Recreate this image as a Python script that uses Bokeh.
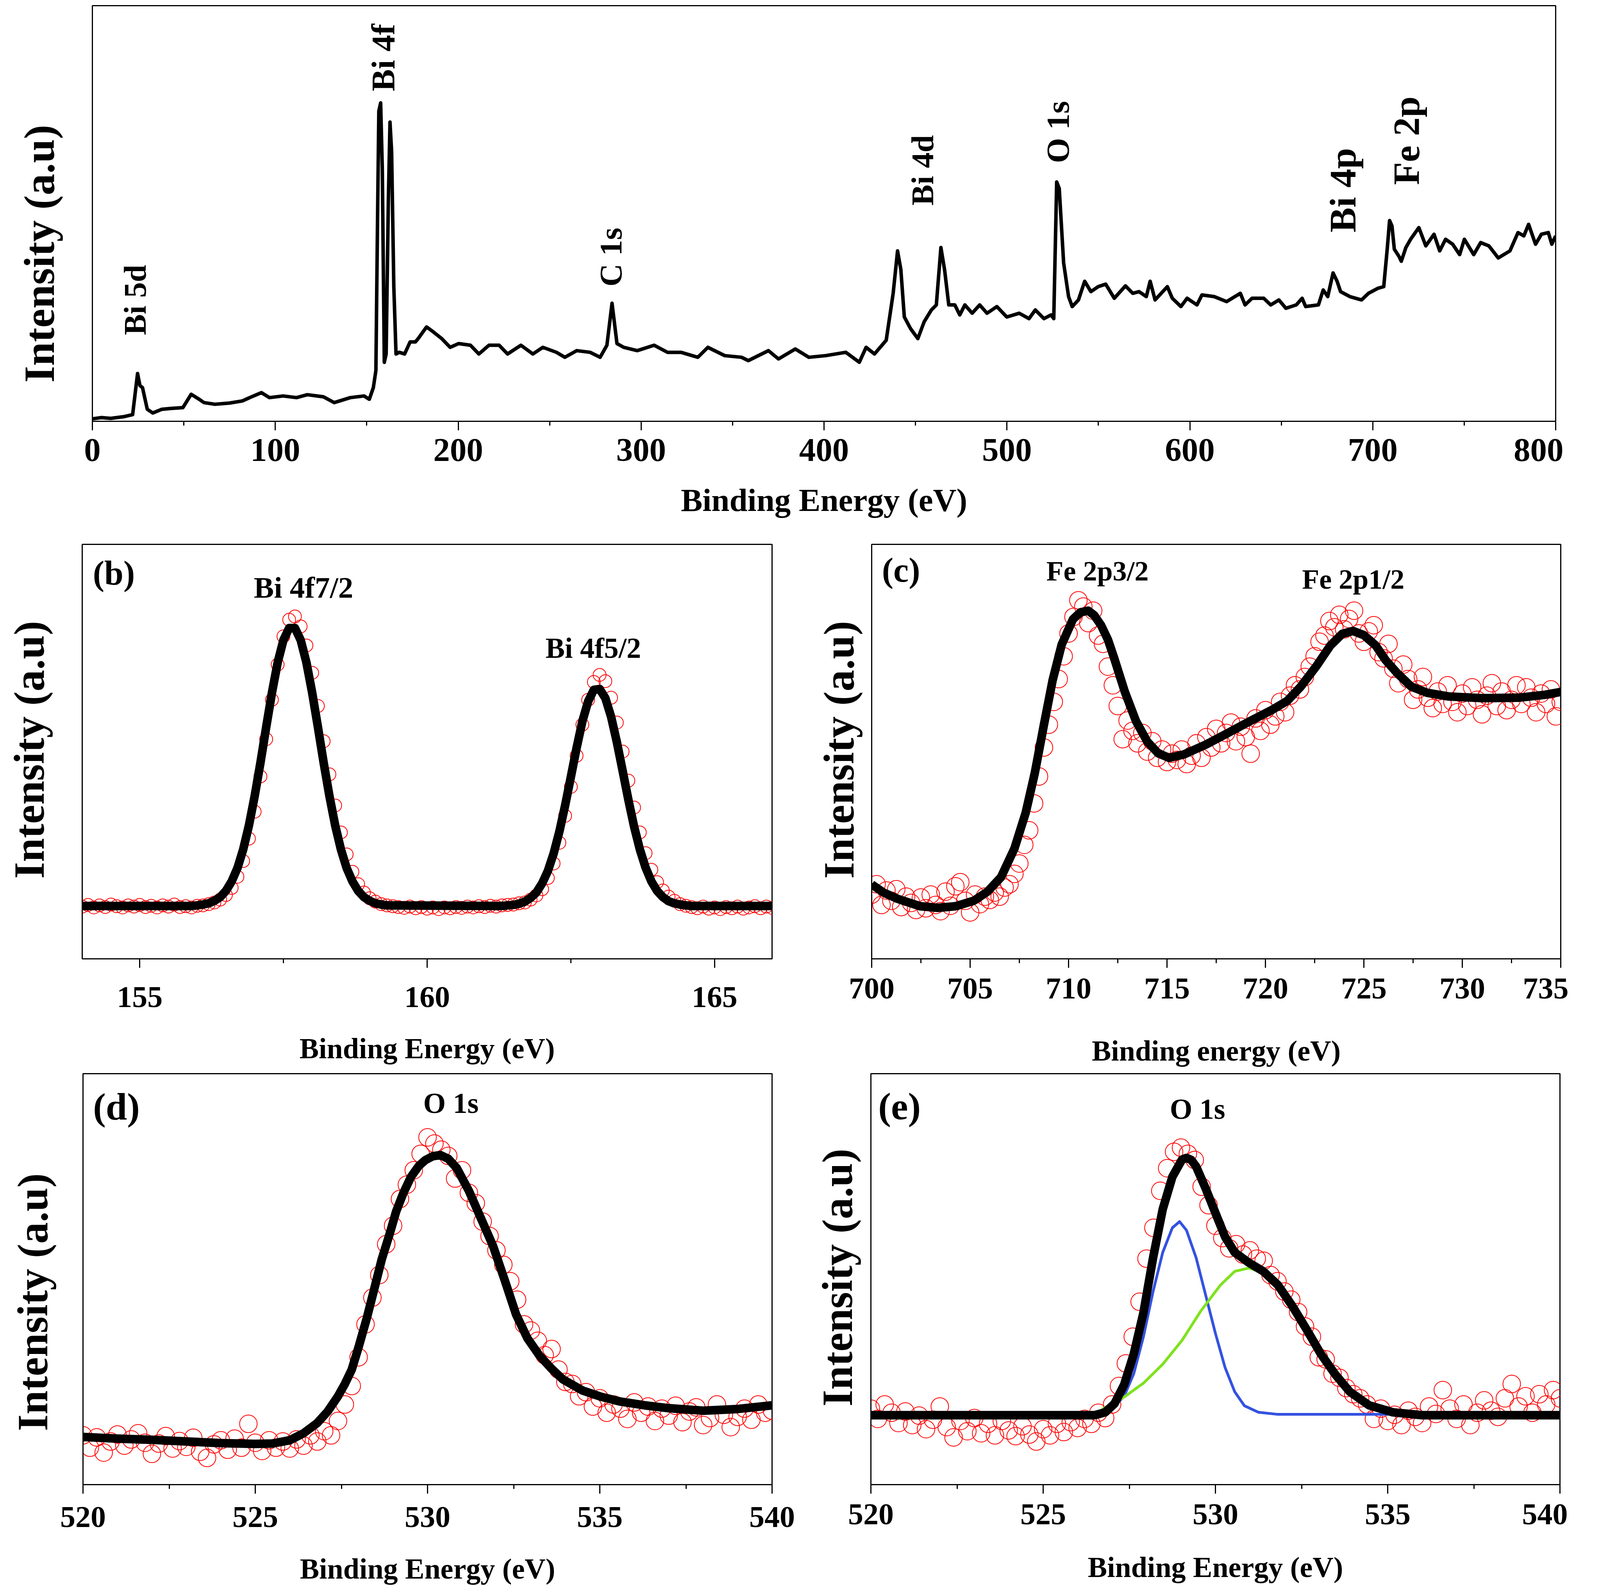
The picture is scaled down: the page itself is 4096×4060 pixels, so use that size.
import numpy as np
from bokeh.plotting import figure
from bokeh.layouts import column, row
from bokeh.models import Range1d, SingleIntervalTicker, FixedTicker, Title
from bokeh.core.properties import value
from bokeh.embed import file_html
from bokeh.resources import INLINE

FONT = "Liberation Serif"

# ---------------- (a) survey spectrum: (binding energy eV, intensity a.u.) ----------------
SURVEY = [(0, 0.6), (5, 0.9), (10, 0.7), (17, 1.1), (22, 1.6), (24.7, 11.5), (26, 8.6), (27.4, 8.1), (30, 2.9),
          (33, 2.0), (38, 2.9), (43, 3.1), (49.5, 3.3), (54, 6.5), (58.4, 5.3), (61, 4.5), (67, 4.1), (75, 4.4),
          (82, 4.9), (86, 5.7), (92.4, 6.9), (96.8, 5.7), (104.3, 6.1), (111.6, 5.7), (117.5, 6.4), (126.3, 5.9),
          (132.2, 4.5), (141, 5.7), (148.5, 6.1), (151.4, 5.3), (153.6, 8.1), (155, 12.2), (155.8, 44.6),
          (156.6, 74.6), (157.6, 76.6), (158.5, 60.8), (159.6, 14.2), (160.6, 16.2), (161.8, 52.7), (162.7, 72.0),
          (163.6, 64.9), (164.8, 32.4), (166, 16.2), (167.8, 16.6), (170.7, 16.2), (173.7, 19.1), (176.6, 19.1),
          (178.1, 19.9), (182.7, 22.7), (186.4, 21.5), (191, 19.9), (195.6, 17.8), (200.2, 18.7), (206.7, 18.3),
          (211.3, 16.2), (216.8, 18.3), (222.4, 18.3), (227, 16.2), (234.3, 18.3), (240.8, 16.2), (246.3, 17.8),
          (253.7, 16.6), (258.3, 15.4), (264.8, 17.0), (272.1, 16.6), (277.6, 15.4), (281.3, 18.3), (284.1, 28.4),
          (286.8, 18.7), (290.5, 17.8), (297.9, 17.0), (307.1, 18.3), (314.4, 16.6), (321.8, 16.6), (331, 15.4),
          (336.5, 17.8), (345.7, 15.8), (354.9, 15.4), (358.6, 14.6), (369.6, 17.0), (375.1, 15.0), (384.3, 17.4),
          (391.7, 15.4), (400.9, 15.8), (411.9, 16.6), (419.3, 14.2), (423, 17.8), (427.6, 16.2), (434, 19.5),
          (437.8, 30.8), (440.2, 41.0), (442, 36.5), (443.9, 25.1), (447.3, 22.3), (451.3, 19.9), (454.7, 23.9),
          (458.7, 26.8), (461.4, 28.0), (463.9, 41.8), (465.9, 36.5), (468.2, 28.0), (471.5, 28.0), (474.2, 25.6),
          (477, 28.0), (481, 26.0), (485.1, 28.0), (489.1, 26.0), (494.5, 27.6), (499.9, 25.1), (506.7, 26.0),
          (512.1, 24.7), (515.5, 26.8), (520.2, 24.7), (524.2, 25.6), (525.6, 24.7), (527.2, 57.6), (528.6, 56.0),
          (531, 38.1), (533.7, 30.0), (535.7, 27.6), (539.1, 29.2), (542.5, 33.7), (545.9, 31.2), (549.9, 32.4),
          (554, 33.0), (558.7, 29.6), (564.8, 32.6), (568.8, 30.8), (572.2, 31.2), (576.2, 30.0), (578.3, 33.7),
          (581, 29.2), (587.7, 32.4), (590.4, 29.6), (595.1, 27.6), (598.5, 29.6), (603.9, 28.0), (606.6, 30.4),
          (613.3, 30.0), (620.1, 28.8), (627.6, 30.8), (630.2, 28.0), (634, 29.6), (640.4, 29.6), (644.2, 28.0),
          (648.7, 29.2), (652.5, 27.2), (658.2, 28.0), (661.4, 29.6), (663.3, 27.6), (670.3, 28.0), (672.9, 31.6),
          (675.4, 30.0), (678.3, 35.7), (680.5, 33.7), (682.4, 31.2), (687.5, 30.0), (693.9, 29.2), (697.7, 30.8),
          (702.8, 32.0), (706, 32.4), (707.9, 41.4), (709.2, 48.3), (710.5, 47.0), (711.8, 41.4), (714.3, 39.7),
          (715.6, 38.5), (718.1, 41.8), (720.7, 43.8), (725.2, 46.6), (729, 42.2), (733.5, 45.0), (736.6, 41.0),
          (739.8, 43.8), (743.7, 42.6), (747.5, 40.1), (750.1, 43.8), (755.2, 40.1), (759, 43.0), (763.5, 42.2),
          (768.6, 39.3), (775, 41.0), (779.4, 45.4), (782.6, 44.6), (785.2, 47.4), (789, 42.6), (792.2, 45.0),
          (796, 45.4), (797.9, 42.6), (800, 44.6)]
SURVEY_PEAKS = ["Bi 5d", "Bi 4f", "C 1s", "Bi 4d", "O 1s", "Bi 4p", "Fe 2p"]
SURVEY_PEAK_BE = [23.3, 158.9, 283.4, 454.0, 527.8, 683.7, 718.5]
SURVEY_PEAK_I = [29.2, 87.5, 39.5, 60.4, 69.6, 55.6, 67.5]

# ---------------- (b) Bi 4f ----------------
BI4F_DATA = [(154.0, 12.6), (154.1, 13.0), (154.2, 12.4), (154.3, 12.9), (154.4, 12.5), (154.5, 13.1), (154.6, 12.7),
             (154.7, 12.4), (154.8, 12.9), (154.9, 12.6), (155.0, 13.0), (155.1, 12.5), (155.2, 12.8), (155.3, 12.4),
             (155.4, 12.9), (155.5, 12.6), (155.6, 13.1), (155.7, 12.5), (155.8, 12.7), (155.9, 12.4), (156.0, 12.8),
             (156.1, 12.9), (156.2, 13.2), (156.3, 13.6), (156.4, 14.3), (156.5, 15.4), (156.6, 17.1), (156.7, 19.8),
             (156.8, 23.6), (156.9, 29.0), (157.0, 35.5), (157.1, 44.0), (157.2, 53.0), (157.3, 62.5), (157.4, 71.0),
             (157.5, 77.8), (157.6, 81.8), (157.7, 82.6), (157.8, 80.2), (157.9, 75.6), (158.0, 69.0), (158.1, 61.0),
             (158.2, 52.5), (158.3, 44.5), (158.4, 37.0), (158.5, 30.5), (158.6, 25.2), (158.7, 21.0), (158.8, 18.0),
             (158.9, 16.0), (159.0, 14.6), (159.1, 13.8), (159.2, 13.2), (159.3, 12.9), (159.4, 12.7), (159.5, 12.5),
             (159.6, 12.3), (159.7, 12.6), (159.8, 12.2), (159.9, 12.5), (160.0, 12.1), (160.1, 12.4), (160.2, 12.0),
             (160.3, 12.4), (160.4, 12.2), (160.5, 12.5), (160.6, 12.3), (160.7, 12.6), (160.8, 12.4), (160.9, 12.7),
             (161.0, 12.5), (161.1, 12.8), (161.2, 12.6), (161.3, 12.9), (161.4, 13.0), (161.5, 13.1), (161.6, 13.4),
             (161.7, 13.6), (161.8, 14.3), (161.9, 15.3), (162.0, 16.8), (162.1, 19.5), (162.2, 23.0), (162.3, 28.0),
             (162.4, 34.5), (162.5, 41.5), (162.6, 49.0), (162.7, 56.5), (162.8, 62.5), (162.9, 66.8), (163.0, 68.5),
             (163.1, 67.0), (163.2, 63.0), (163.3, 57.0), (163.4, 50.0), (163.5, 43.0), (163.6, 36.5), (163.7, 30.5),
             (163.8, 25.5), (163.9, 21.5), (164.0, 18.5), (164.1, 16.5), (164.2, 15.0), (164.3, 14.0), (164.4, 13.2),
             (164.5, 12.8), (164.6, 12.5), (164.7, 12.2), (164.8, 12.6), (164.9, 12.1), (165.0, 12.4), (165.1, 12.0),
             (165.2, 12.5), (165.3, 12.2), (165.4, 12.6), (165.5, 12.1), (165.6, 12.4), (165.7, 12.7), (165.8, 12.2),
             (165.9, 12.6), (166.0, 12.3)]
BI4F_FIT = [(154.0, 12.75), (155.9, 12.75), (156.0, 12.9), (156.1, 13.1), (156.2, 13.4), (156.3, 14.0), (156.4, 14.9),
            (156.5, 16.4), (156.6, 18.7), (156.7, 21.9), (156.8, 26.4), (156.9, 32.2), (157.0, 39.3), (157.1, 47.3),
            (157.2, 55.9), (157.3, 64.2), (157.4, 71.5), (157.5, 76.9), (157.6, 79.8), (157.7, 79.8), (157.8, 76.9),
            (157.9, 71.5), (158.0, 64.2), (158.1, 55.9), (158.2, 47.3), (158.3, 39.3), (158.4, 32.2), (158.5, 26.4),
            (158.6, 21.9), (158.7, 18.7), (158.8, 16.4), (158.9, 14.9), (159.0, 14.0), (159.1, 13.4), (159.2, 13.1),
            (159.3, 12.9), (161.3, 12.75), (161.4, 12.9), (161.5, 13.0), (161.6, 13.3), (161.7, 13.8), (161.8, 14.7),
            (161.9, 16.0), (162.0, 18.2), (162.1, 21.2), (162.2, 25.4), (162.3, 30.7), (162.4, 37.0), (162.5, 43.9),
            (162.6, 50.9), (162.7, 57.3), (162.8, 62.1), (162.9, 64.9), (163.0, 65.1), (163.1, 62.9), (163.2, 58.4),
            (163.3, 52.3), (163.4, 45.4), (163.5, 38.4), (163.6, 31.9), (163.7, 26.4), (163.8, 22.0), (163.9, 18.7),
            (164.0, 16.4), (164.1, 14.9), (164.2, 13.9), (164.3, 13.4), (164.4, 13.1), (164.5, 12.9), (164.6, 12.75),
            (166.0, 12.75)]

# ---------------- (c) Fe 2p ----------------
FE2P_DATA = [(700.0, 15.5), (700.25, 18.0), (700.5, 13.0), (700.75, 16.5), (701.0, 14.0), (701.25, 16.8), (701.5, 12.5),
             (701.75, 15.0), (702.0, 13.5), (702.25, 11.8), (702.5, 14.8), (702.75, 12.2), (703.0, 15.5), (703.25, 13.0),
             (703.5, 11.5), (703.75, 16.2), (704.0, 12.8), (704.25, 17.5), (704.5, 18.5), (704.75, 14.0), (705.0, 11.2),
             (705.25, 15.5), (705.5, 13.2), (705.75, 15.0), (706.0, 14.2), (706.25, 16.0), (706.5, 15.0), (706.75, 17.2),
             (707.0, 18.0), (707.25, 20.5), (707.5, 23.0), (707.75, 27.5), (708.0, 31.0), (708.25, 37.5), (708.5, 44.0),
             (708.75, 51.0), (709.0, 56.5), (709.25, 62.0), (709.5, 67.5), (709.75, 73.0), (710.0, 78.5), (710.25, 82.5),
             (710.5, 86.5), (710.75, 85.0), (711.0, 81.0), (711.25, 84.0), (711.5, 78.0), (711.75, 76.0), (712.0, 70.5),
             (712.25, 66.0), (712.5, 61.0), (712.75, 53.0), (713.0, 57.5), (713.25, 55.0), (713.5, 52.0), (713.75, 54.5),
             (714.0, 50.0), (714.25, 52.5), (714.5, 48.5), (714.75, 50.5), (715.0, 47.5), (715.25, 49.5), (715.5, 48.0),
             (715.75, 50.5), (716.0, 47.0), (716.25, 49.0), (716.5, 52.0), (716.75, 48.5), (717.0, 53.5), (717.25, 51.0),
             (717.5, 55.5), (717.75, 52.0), (718.0, 54.5), (718.25, 57.0), (718.5, 52.5), (718.75, 56.0), (719.0, 53.5),
             (719.25, 49.5), (719.5, 58.0), (719.75, 55.0), (720.0, 60.0), (720.25, 56.5), (720.5, 58.5), (720.75, 62.0),
             (721.0, 59.5), (721.25, 63.5), (721.5, 66.0), (721.75, 65.0), (722.0, 68.0), (722.25, 70.5), (722.5, 73.0),
             (722.75, 76.5), (723.0, 78.0), (723.25, 81.5), (723.5, 80.0), (723.75, 83.0), (724.0, 79.5), (724.25, 82.0),
             (724.5, 84.0), (724.75, 78.5), (725.0, 76.5), (725.25, 79.0), (725.5, 80.5), (725.75, 74.0), (726.0, 72.5),
             (726.25, 76.0), (726.5, 70.0), (726.75, 66.5), (727.0, 71.0), (727.25, 67.5), (727.5, 62.5), (727.75, 65.0),
             (728.0, 68.0), (728.25, 63.0), (728.5, 60.5), (728.75, 64.5), (729.0, 61.5), (729.25, 66.0), (729.5, 62.0),
             (729.75, 59.5), (730.0, 64.0), (730.25, 61.0), (730.5, 65.5), (730.75, 62.5), (731.0, 59.0), (731.25, 63.5),
             (731.5, 66.5), (731.75, 61.0), (732.0, 64.5), (732.25, 60.0), (732.5, 62.5), (732.75, 66.0), (733.0, 61.5),
             (733.25, 65.5), (733.5, 63.0), (733.75, 59.5), (734.0, 64.0), (734.25, 61.5), (734.5, 65.0), (734.75, 58.5),
             (735.0, 62.0)]
FE2P_FIT = [(700.0, 17.95), (700.6, 16.0), (701.3, 14.5), (702.45, 12.7), (703.36, 12.3), (704.28, 12.7),
            (705.2, 14.05), (705.88, 16.2), (706.57, 19.7), (707.25, 26.6), (707.82, 35.2), (708.28, 44.7),
            (708.73, 56.0), (709.19, 67.2), (709.65, 75.8), (710.22, 81.9), (710.6, 83.6), (711.0, 84.0),
            (711.3, 82.9), (711.65, 80.5), (712.0, 77.0), (712.3, 72.8), (712.86, 64.4), (713.43, 57.3),
            (714.0, 52.4), (714.55, 49.6), (715.1, 48.5), (715.85, 49.3), (716.98, 51.7), (718.1, 54.5),
            (719.2, 57.3), (720.35, 60.1), (721.1, 62.2), (721.8, 65.7), (722.6, 70.7), (723.3, 75.6),
            (723.9, 78.4), (724.45, 79.1), (725.0, 78.1), (725.6, 75.6), (726.1, 72.1), (726.7, 68.9),
            (727.4, 65.7), (728.2, 64.2), (729.3, 63.3), (731.0, 62.9), (732.85, 63.0), (734.2, 63.7), (735.0, 64.4)]

# ---------------- (d) O 1s ----------------
O1S_D_DATA = [(520.0, 12.0), (520.2, 9.0), (520.4, 11.5), (520.6, 7.8), (520.8, 10.5), (521.0, 12.2), (521.2, 9.5),
              (521.4, 11.0), (521.6, 12.5), (521.8, 10.2), (522.0, 7.5), (522.2, 10.0), (522.4, 11.8), (522.6, 8.8),
              (522.8, 10.6), (523.0, 9.2), (523.2, 11.4), (523.4, 8.0), (523.6, 6.5), (523.8, 9.8), (524.0, 10.8),
              (524.2, 8.5), (524.4, 11.2), (524.6, 9.0), (524.8, 14.8), (525.0, 10.2), (525.2, 8.2), (525.4, 10.8),
              (525.6, 9.0), (525.8, 10.5), (526.0, 8.8), (526.2, 11.0), (526.4, 9.5), (526.6, 12.0), (526.8, 10.5),
              (527.0, 13.0), (527.2, 12.0), (527.4, 15.5), (527.6, 19.5), (527.8, 24.0), (528.0, 31.0), (528.2, 39.0),
              (528.4, 45.5), (528.6, 51.0), (528.8, 58.5), (529.0, 63.0), (529.2, 69.5), (529.4, 73.0), (529.6, 76.5),
              (529.8, 80.5), (530.0, 84.5), (530.2, 83.0), (530.4, 81.5), (530.6, 80.0), (530.8, 74.5), (531.0, 76.5),
              (531.2, 71.0), (531.4, 68.5), (531.6, 64.0), (531.8, 60.5), (532.0, 57.0), (532.2, 53.5), (532.4, 49.5),
              (532.6, 45.0), (532.8, 39.0), (533.0, 37.5), (533.2, 35.0), (533.4, 31.5), (533.6, 33.0), (533.8, 28.0),
              (534.0, 25.0), (534.2, 24.5), (534.4, 21.5), (534.6, 22.5), (534.8, 19.0), (535.0, 21.0), (535.2, 17.5),
              (535.4, 19.5), (535.6, 18.5), (535.8, 16.0), (536.0, 20.0), (536.2, 17.5), (536.4, 19.0), (536.6, 15.5),
              (536.8, 18.5), (537.0, 16.8), (537.2, 19.2), (537.4, 15.2), (537.6, 17.8), (537.8, 18.8), (538.0, 14.5),
              (538.2, 16.2), (538.4, 19.5), (538.6, 17.0), (538.8, 14.0), (539.0, 16.5), (539.2, 18.5), (539.4, 15.8),
              (539.6, 19.5), (539.8, 17.5), (540.0, 18.0)]
O1S_D_FIT = [(520.0, 11.6), (521.0, 11.2), (522.0, 10.9), (523.0, 10.5), (524.0, 10.1), (525.0, 9.9), (525.5, 10.0),
             (526.0, 10.8), (526.4, 12.5), (526.8, 15.0), (527.1, 17.8), (527.4, 21.5), (527.6, 24.5), (527.8, 28.0),
             (528.0, 33.5), (528.24, 40.6), (528.45, 47.5), (528.67, 54.8), (528.9, 61.0), (529.09, 66.5),
             (529.3, 71.0), (529.52, 74.9), (529.75, 77.6), (529.94, 79.0), (530.15, 79.9), (530.37, 80.2),
             (530.6, 79.3), (530.85, 77.0), (531.2, 71.5), (531.55, 64.8), (531.9, 58.1), (532.25, 49.5),
             (532.57, 41.4), (532.9, 35.6), (533.25, 31.4), (533.6, 28.2), (533.93, 25.6), (534.5, 22.9),
             (535.03, 21.4), (535.6, 20.2), (536.3, 19.3), (537.0, 18.6), (538.0, 18.0), (539.0, 18.4), (540.0, 19.3)]

# ---------------- (e) O 1s deconvoluted ----------------
O1S_E_DATA = [(520.0, 18.5), (520.2, 16.0), (520.4, 19.5), (520.6, 17.5), (520.8, 15.0), (521.0, 17.8), (521.2, 14.5),
              (521.4, 16.8), (521.6, 13.5), (521.8, 15.8), (522.0, 19.0), (522.2, 14.0), (522.4, 11.5), (522.6, 15.5),
              (522.8, 13.0), (523.0, 16.2), (523.2, 12.5), (523.4, 14.8), (523.6, 12.0), (523.8, 15.5), (524.0, 13.2),
              (524.2, 11.8), (524.4, 14.2), (524.6, 12.2), (524.8, 10.5), (525.0, 13.5), (525.2, 12.0), (525.4, 14.8),
              (525.6, 12.8), (525.8, 15.2), (526.0, 13.8), (526.2, 16.0), (526.4, 14.8), (526.6, 17.5), (526.8, 16.2),
              (527.0, 19.5), (527.2, 24.0), (527.4, 29.5), (527.6, 36.0), (527.8, 44.5), (528.0, 55.0), (528.2, 62.5),
              (528.4, 71.5), (528.6, 77.0), (528.8, 81.0), (529.0, 82.0), (529.2, 80.5), (529.4, 79.0), (529.6, 72.5),
              (529.8, 68.0), (530.0, 63.0), (530.2, 60.0), (530.4, 57.5), (530.6, 58.5), (530.8, 56.0), (531.0, 57.0),
              (531.2, 55.0), (531.4, 54.5), (531.6, 51.0), (531.8, 49.5), (532.0, 47.0), (532.2, 45.0), (532.4, 42.0),
              (532.6, 38.5), (532.8, 36.0), (533.0, 31.0), (533.2, 30.5), (533.4, 27.0), (533.6, 26.0), (533.8, 23.5),
              (534.0, 22.0), (534.2, 21.0), (534.4, 19.5), (534.6, 16.0), (534.8, 18.5), (535.0, 15.5), (535.2, 17.0),
              (535.4, 14.5), (535.6, 18.0), (535.8, 16.5), (536.0, 15.0), (536.2, 19.0), (536.4, 17.2), (536.6, 23.0),
              (536.8, 18.5), (537.0, 16.0), (537.2, 19.5), (537.4, 14.5), (537.6, 17.5), (537.8, 20.5), (538.0, 18.0),
              (538.2, 16.5), (538.4, 21.0), (538.6, 24.5), (538.8, 19.0), (539.0, 21.5), (539.2, 17.5), (539.4, 22.0),
              (539.6, 19.5), (539.8, 23.0), (540.0, 21.0)]
O1S_E_FIT = [(520.0, 16.9), (526.5, 16.9), (526.8, 17.6), (527.07, 19.7), (527.35, 24.3), (527.63, 31.8),
             (527.91, 41.8), (528.19, 55.2), (528.47, 67.0), (528.75, 74.9), (529.03, 79.1), (529.16, 79.5),
             (529.3, 79.0), (529.44, 77.4), (529.72, 72.0), (530.0, 66.1), (530.28, 60.3), (530.56, 56.5),
             (530.97, 54.0), (531.39, 51.9), (531.81, 48.6), (532.23, 43.5), (532.65, 37.7), (533.06, 31.8),
             (533.48, 26.8), (533.9, 22.6), (534.46, 19.3), (535.15, 17.6), (536.0, 16.9), (540.0, 16.9)]
O1S_E_LATTICE = [(526.5, 17.1), (527.0, 18.5), (527.35, 21.5), (527.63, 27.0), (527.91, 36.0), (528.19, 47.0),
                 (528.47, 56.5), (528.75, 62.5), (528.96, 64.0), (529.16, 61.9), (529.44, 55.2), (529.72, 46.0),
                 (530.0, 36.8), (530.28, 28.5), (530.56, 22.6), (530.84, 19.2), (531.25, 17.6), (531.81, 17.1),
                 (535.6, 17.1)]
O1S_E_SECOND = [(526.7, 18.3), (527.35, 21.3), (527.91, 24.7), (528.47, 29.3), (529.03, 35.1), (529.58, 42.3),
                (530.14, 48.5), (530.56, 51.9), (530.97, 52.7), (531.39, 51.6), (531.81, 48.3), (532.23, 43.2),
                (532.65, 37.4), (533.06, 31.5), (533.48, 26.5), (533.9, 22.3), (534.46, 19.0), (535.15, 17.3),
                (536.0, 16.9)]


def xs(pts):
    return [p[0] for p in pts]


def ys(pts):
    return [p[1] for p in pts]


def make_panel(x0, x1, interval, width, height, ml, mr, mt, mb, xlabel,
               tick_size, tick_standoff, xlab_size, xlab_standoff, ylab_gap, ylab_offset):
    p = figure(width=width, height=height, x_range=Range1d(x0, x1), y_range=Range1d(0, 100),
               output_backend="svg", toolbar_location=None,
               min_border_left=ml, min_border_right=mr, min_border_top=mt, min_border_bottom=mb)
    p.xgrid.visible = False
    p.ygrid.visible = False
    p.background_fill_color = "white"
    p.border_fill_color = "white"
    p.outline_line_color = "black"
    p.outline_line_width = 3
    xa = p.xaxis[0]
    xa.ticker = SingleIntervalTicker(interval=interval, num_minor_ticks=2)
    xa.axis_line_width = 3
    xa.axis_line_color = "black"
    xa.major_tick_line_width = 3
    xa.minor_tick_line_width = 3
    xa.major_tick_line_color = "black"
    xa.minor_tick_line_color = "black"
    xa.major_tick_out = 23
    xa.major_tick_in = 0
    xa.minor_tick_out = 11
    xa.minor_tick_in = 0
    xa.major_label_text_font = FONT
    xa.major_label_text_font_style = "bold"
    xa.major_label_text_font_size = f"{tick_size}px"
    xa.major_label_text_color = "black"
    xa.major_label_standoff = tick_standoff
    xa.axis_label = xlabel
    xa.axis_label_text_font = FONT
    xa.axis_label_text_font_style = "bold"
    xa.axis_label_text_font_size = f"{xlab_size}px"
    xa.axis_label_text_color = "black"
    xa.axis_label_standoff = xlab_standoff
    ya = p.yaxis[0]
    ya.ticker = FixedTicker(ticks=[])
    ya.major_tick_out = 0
    ya.major_tick_in = 0
    ya.minor_tick_out = 0
    ya.minor_tick_in = 0
    ya.major_label_standoff = 0
    ya.axis_line_width = 3
    ya.axis_line_color = "black"
    # invisible spacer between the axis line and the vertical axis title
    p.add_layout(Title(text=" ", text_font_size="1px", standoff=ylab_gap, text_color="white"), "left")
    # y-axis title (vertical), shifted along the axis like in the reference
    p.add_layout(Title(text="Intensity (a.u)", align="left", vertical_align="bottom",
                       offset=ylab_offset, standoff=0, text_font=FONT, text_font_style="bold",
                       text_font_size="110px", text_color="black"), "left")
    return p


def add_text(p, x, y, txt, size, angle=0.0):
    p.text(x=[x], y=[y], text=[txt], text_font=value(FONT), text_font_style="bold",
           text_font_size=f"{size}px", text_color="black", text_align="center",
           text_baseline="middle", angle=angle)


# ---------------- panel (a) ----------------
pa = make_panel(0, 800, 100, 4002, 1340, 236, 20, 14, 262, "Binding Energy (eV)",
                85, 22, 83, 51, 72, 99)
pa.line(xs(SURVEY), ys(SURVEY), line_color="black", line_width=9, line_join="round")
peak_sizes = [80, 85, 81, 80, 83, 96, 96]
for lbl, bx, iy, sz in zip(SURVEY_PEAKS, SURVEY_PEAK_BE, SURVEY_PEAK_I, peak_sizes):
    add_text(pa, bx, iy, lbl, sz, angle=np.pi / 2)

# ---------------- panel (b) ----------------
pb = make_panel(154, 166, 5, 2070, 1393, 210, 94, 53, 276, "Binding Energy (eV)",
                78, 49, 74, 62, 72, 205)
pb.scatter(xs(BI4F_DATA), ys(BI4F_DATA), marker="circle", size=33, fill_color=None,
           line_color="red", line_width=2)
pb.line(xs(BI4F_FIT), ys(BI4F_FIT), line_color="black", line_width=22, line_join="round")
add_text(pb, 154.55, 93.0, "(b)", 88)
add_text(pb, 157.85, 89.6, "Bi 4f7/2", 77)
add_text(pb, 162.89, 75.0, "Bi 4f5/2", 74)

# ---------------- panel (c) ----------------
pc = make_panel(700, 735, 5, 1945, 1393, 161, 20, 52, 276, "Binding energy (eV)",
                78, 27, 74, 90, 20, 205)
pc.scatter(xs(FE2P_DATA), ys(FE2P_DATA), marker="circle", size=45, fill_color=None,
           line_color="red", line_width=2)
pc.line(xs(FE2P_FIT), ys(FE2P_FIT), line_color="black", line_width=22, line_join="round")
add_text(pc, 701.49, 93.8, "(c)", 88)
add_text(pc, 711.47, 93.5, "Fe 2p3/2", 72)
add_text(pc, 724.46, 91.6, "Fe 2p1/2", 72)

# ---------------- panel (d) ----------------
pd_ = make_panel(520, 540, 5, 2070, 1347, 212, 94, 15, 267, "Binding Energy (eV)",
                 78, 34, 74, 63, 65, 137)
pd_.scatter(xs(O1S_D_DATA), ys(O1S_D_DATA), marker="circle", size=45, fill_color=None,
            line_color="red", line_width=2)
pd_.line(xs(O1S_D_FIT), ys(O1S_D_FIT), line_color="black", line_width=22, line_join="round")
add_text(pd_, 520.97, 92.0, "(d)", 98)
add_text(pd_, 530.68, 92.8, "O 1s", 74)

# ---------------- panel (e) ----------------
pe = make_panel(520, 540, 5, 1943, 1347, 159, 20, 4, 280, "Binding Energy (eV)",
                78, 27, 74, 66, 22, 200)
pe.scatter(xs(O1S_E_DATA), ys(O1S_E_DATA), marker="circle", size=45, fill_color=None,
           line_color="red", line_width=2)
pe.line(xs(O1S_E_LATTICE), ys(O1S_E_LATTICE), line_color="#3452e0", line_width=7, line_join="round")
pe.line(xs(O1S_E_SECOND), ys(O1S_E_SECOND), line_color="#7fe21e", line_width=7, line_join="round")
pe.line(xs(O1S_E_FIT), ys(O1S_E_FIT), line_color="black", line_width=22, line_join="round")
add_text(pe, 520.83, 92.1, "(e)", 98)
add_text(pe, 529.48, 91.4, "O 1s", 74)

layout = column(pa, row(pb, pc), row(pd_, pe))
open("out.html", "w").write(file_html(layout, INLINE, title="XPS spectra"))
